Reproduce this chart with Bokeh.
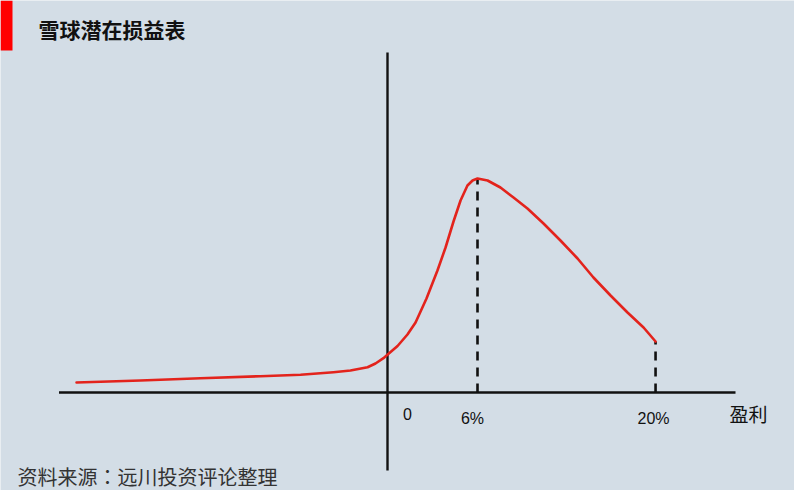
from bokeh.plotting import figure
from bokeh.models import Range1d, Label, BoxAnnotation, ColumnDataSource
from bokeh.core.properties import value
from bokeh.embed import file_html
from bokeh.resources import INLINE

# ---- data (schematic profit units on x, payoff units on y) ----
curve_x = [-20.73, -16.47, -12.47, -8.47, -5.8, -3.6, -2.47, -1.33, -0.8, -0.27, 0.07,
           0.67, 1.33, 1.87, 2.6, 3.33, 3.87, 4.4, 4.87, 5.33, 5.67, 6.0, 6.67, 7.53,
           8.4, 9.33, 10.4, 11.53, 12.67, 13.73, 14.87, 16.0, 17.07, 17.87]
curve_y = [1.0, 1.2, 1.43, 1.63, 1.77, 2.03, 2.2, 2.53, 2.9, 3.43, 3.87,
           4.65, 5.8, 7.0, 9.4, 12.2, 14.5, 17.1, 19.2, 20.7, 21.2, 21.4, 21.2, 20.5,
           19.5, 18.4, 16.9, 15.2, 13.4, 11.5, 9.7, 8.0, 6.5, 5.1]
tick_pos = [0.0, 6.0, 17.87]
tick_labels = ["0", "6%", "20%"]
marker_x = [6.0, 17.87]
marker_y = [21.4, 5.1]
axis_x = [-21.9, 23.2]
axis_y = [-7.8, 34.0]
x_title = "盈利"
title = "雪球潜在损益表"
source_note = "资料来源：远川投资评论整理"

BG = "#d3dde6"
RED = "#e3231c"

W, H = 794, 490
X0, X1 = -25.8, 27.133
Y0, Y1 = -9.8, 39.2
p = figure(width=W, height=H, output_backend="svg", toolbar_location=None,
           x_range=Range1d(X0, X1), y_range=Range1d(Y0, Y1), min_border=0)
p.axis.visible = False
p.grid.visible = False
p.outline_line_color = None
p.background_fill_color = BG
p.border_fill_color = BG

# axes drawn as crossing lines
p.line(x=axis_x, y=[0, 0], line_color="#111111", line_width=2.6)
p.line(x=[0, 0], y=axis_y, line_color="#111111", line_width=2.4)

# dashed drop lines
p.segment(x0=marker_x, y0=[0, 0], x1=marker_x, y1=marker_y,
          line_color="#111111", line_width=2.6, line_dash="9 7")

# payoff curve
p.line(x=curve_x, y=curve_y, line_color=RED, line_width=2.6,
       line_join="round", line_cap="round")

# tick labels
src = ColumnDataSource(dict(x=tick_pos, y=[-2.1, -2.6, -2.6], t=tick_labels,
                            dx=[20, -5, -2]))
p.text(x="x", y="y", text="t", x_offset="dx", source=src, text_align="center",
       text_baseline="middle", text_font=value("Liberation Sans"),
       text_font_size="16px", text_color="#111111")
p.text(x=[22.8], y=[-2.1], text=[x_title], text_align="left", text_baseline="middle",
       text_font=value("Noto Sans CJK SC"), text_font_size="19px", text_color="#111111")

# title + red marker bar
p.add_layout(BoxAnnotation(left=X0, right=X0 + 12 / 15.0, top=Y1, bottom=Y1 - 5.0,
                           fill_color="#ff0000", fill_alpha=1.0, line_color=None))
p.add_layout(Label(x=38, y=H - 28, x_units="screen", y_units="screen", text=title,
                   text_font="Noto Sans CJK SC", text_font_style="bold",
                   text_font_size="21px", text_baseline="middle", text_color="#111111"))
p.add_layout(Label(x=17, y=H - 461, x_units="screen", y_units="screen", text=source_note,
                   text_font="Noto Sans CJK TC", text_font_size="20px",
                   text_baseline="top", text_color="#333333"))

open("out.html", "w").write(file_html(p, INLINE))
